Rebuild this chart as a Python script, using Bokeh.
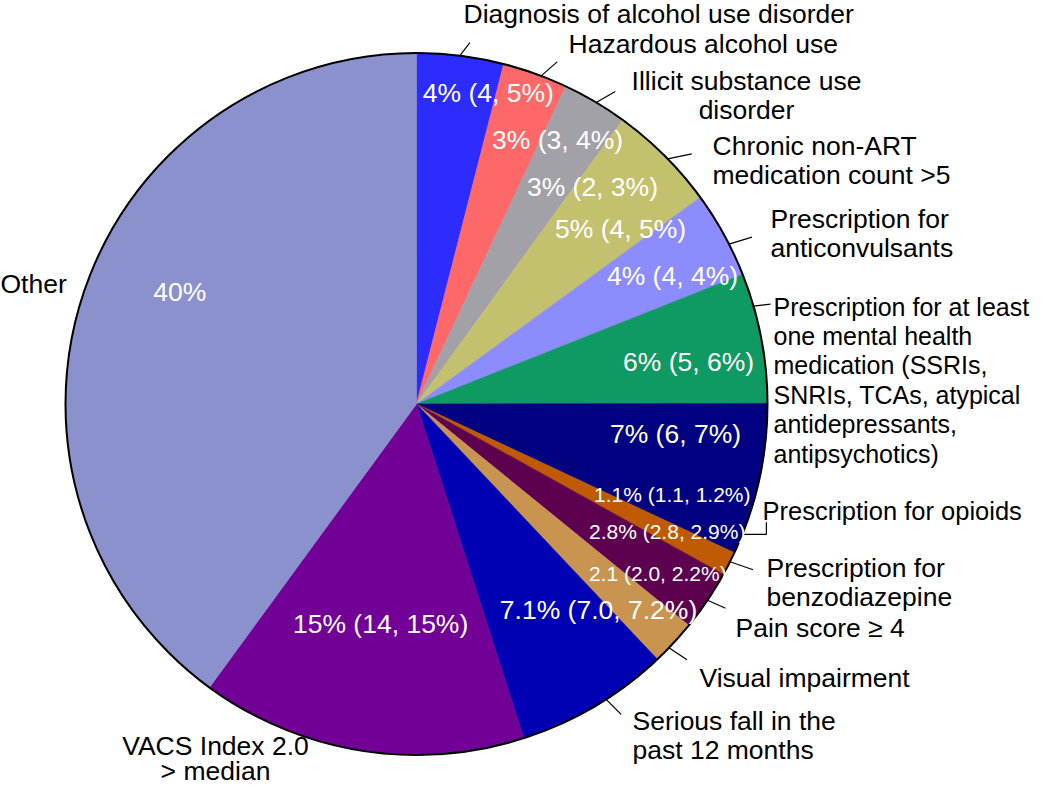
import math
from bokeh.plotting import figure
from bokeh.models import Range1d, ColumnDataSource
from bokeh.core.properties import value
from bokeh.embed import file_html
from bokeh.resources import INLINE

# ---------------- data ----------------
categories = [
    "Diagnosis of alcohol use disorder",
    "Hazardous alcohol use",
    "Illicit substance use disorder",
    "Chronic non-ART medication count >5",
    "Prescription for anticonvulsants",
    "Prescription for at least one mental health medication (SSRIs, SNRIs, TCAs, atypical antidepressants, antipsychotics)",
    "Prescription for opioids",
    "Prescription for benzodiazepine",
    "Pain score \u2265 4",
    "Visual impairment",
    "Serious fall in the past 12 months",
    "VACS Index 2.0 > median",
    "Other",
]
display_labels = [
    "Diagnosis of alcohol use disorder",
    "Hazardous alcohol use",
    "Illicit substance use\ndisorder",
    "Chronic non-ART\nmedication count >5",
    "Prescription for\nanticonvulsants",
    "Prescription for at least\none mental health\nmedication (SSRIs,\nSNRIs, TCAs, atypical\nantidepressants,\nantipsychotics)",
    "Prescription for opioids",
    "Prescription for\nbenzodiazepine",
    "Pain score \u2265 4",
    "Visual impairment",
    "Serious fall in the\npast 12 months",
    "VACS Index 2.0\n> median",
    "Other",
]
values = [4, 3, 3, 5, 4, 6, 7, 1.1, 2.8, 2.1, 7.1, 15, 40]
value_labels = [
    "4% (4, 5%)", "3% (3, 4%)", "3% (2, 3%)", "5% (4, 5%)", "4% (4, 4%)",
    "6% (5, 6%)", "7% (6, 7%)", "1.1% (1.1, 1.2%)", "2.8% (2.8, 2.9%)",
    "2.1 (2.0, 2.2%)", "7.1% (7.0, 7.2%)", "15% (14, 15%)", "40%",
]
colors = [
    "#2C2CFF", "#FF6868", "#A2A1A8", "#C3C06E", "#8C8CFF", "#0E9A62",
    "#000080", "#C05A00", "#5E0050", "#C89450", "#0000B4", "#730096",
    "#8A91CD",
]

# ---------------- layout (picture pixel frame, y downwards) ----------------
W, H = 1034, 787
CX, CY = 416, 403.5
R = 351
FONT = "Liberation Sans"
BIG = 26.5
SMALL = 21

# inside value labels: polar (deg clockwise from top, distance px) of baseline centre
in_ang = [13.4, 29.0, 40.3, 50.9, 65.2, 83.2, 98.7, 111.0, 118.4, 126.2, 139.8, 188.9, 293.4]
in_dist = [310, 291, 272, 263, 282, 274, 262, 274, 285, 299, 282, 232, 258]
in_size = [BIG, BIG, BIG, BIG, BIG, BIG, BIG, SMALL, SMALL, SMALL, BIG, BIG, BIG]

# outside labels: anchor x, first baseline, alignment, size, line step
out_x = [463, 568, 746, 712, 770, 773, 762, 766, 735, 699, 632, 215, 0]
out_y = [23, 53, 90, 155, 228, 315, 520, 577, 637, 687, 730, 755, 293]
out_align = ["left", "left", "center", "left", "left", "left", "left", "left",
             "left", "left", "left", "center", "left"]
out_size = [BIG, BIG, BIG, BIG, BIG, 25, 25.5, BIG, BIG, BIG, BIG, BIG, BIG]
out_step = [29.4] * 11 + [25.5, 29.4]

# leader lines: start angle on the rim, end offset (px)
lead_ang = [7.1, 20.8, 30.8, 45.7, 62.9, 73.8, 116.7, 124.0, 134.0, 147.3]
lead_off = [(10, -13), (16, -14), (19, -11), (24, -5), (23, -7), (17, -2),
            (23, 8), (18, 8), (18, 12), (15, 15)]
opioid_ang = 111.8
opioid_path = [(0, 0), (24, 0), (24, -12)]

# vertical correction: anchor at visual middle of the cap height
MID = 0.36


def to_data(xp, yp):
    return xp, H - yp


def polar(theta_deg, dist):
    t = math.radians(theta_deg)
    return CX + dist * math.sin(t), CY - dist * math.cos(t)


p = figure(width=W, height=H, output_backend="svg", toolbar_location=None,
           x_range=Range1d(0, W), y_range=Range1d(0, H),
           min_border=0, min_border_left=0, min_border_right=0,
           min_border_top=0, min_border_bottom=0)
p.xaxis.visible = False
p.yaxis.visible = False
p.grid.visible = False
p.outline_line_color = None
p.background_fill_color = "white"
p.border_fill_color = "white"

# wedges
total = sum(values)
starts, ends = [], []
cum = 0.0
for v in values:
    a0 = cum / total * 360.0
    cum += v
    a1 = cum / total * 360.0
    starts.append(math.radians(90 - a0))
    ends.append(math.radians(90 - a1))

cxd, cyd = to_data(CX, CY)
src = ColumnDataSource(dict(start=starts, end=ends, color=colors, cat=categories))
p.wedge(x=cxd, y=cyd, radius=R, start_angle="start", end_angle="end",
        direction="clock", fill_color="color", line_color="color",
        line_width=0.6, source=src)
p.circle(x=[cxd], y=[cyd], radius=R, fill_color=None, line_color="black",
         line_width=2)

# leader lines
xs, ys = [], []
for ang, off in zip(lead_ang, lead_off):
    sx, sy = polar(ang, R)
    x0, y0 = to_data(sx, sy)
    x1, y1 = to_data(sx + off[0], sy + off[1])
    xs.append([x0, x1])
    ys.append([y0, y1])
sx, sy = polar(opioid_ang, R)
pts = [to_data(sx + dx, sy + dy) for dx, dy in opioid_path]
xs.append([q[0] for q in pts])
ys.append([q[1] for q in pts])
p.multi_line(xs=xs, ys=ys, line_color="black", line_width=1.2)

# inside value labels
for lab, ang, d, fs in zip(value_labels, in_ang, in_dist, in_size):
    xp, yp = polar(ang, d)
    xd, yd = to_data(xp, yp - MID * fs)
    p.text(x=[xd], y=[yd], text=[lab], text_color="white",
           text_font=value(FONT), text_font_size=f"{fs}px",
           text_align="center", text_baseline="middle")

# outside category labels
for lab, x0, y0, al, fs, st in zip(display_labels, out_x, out_y, out_align,
                                   out_size, out_step):
    for i, ln in enumerate(lab.split("\n")):
        xd, yd = to_data(x0, y0 + i * st - MID * fs)
        p.text(x=[xd], y=[yd], text=[ln], text_color="black",
               text_font=value(FONT), text_font_size=f"{fs}px",
               text_align=al, text_baseline="middle")

open("out.html", "w").write(file_html(p, INLINE))
